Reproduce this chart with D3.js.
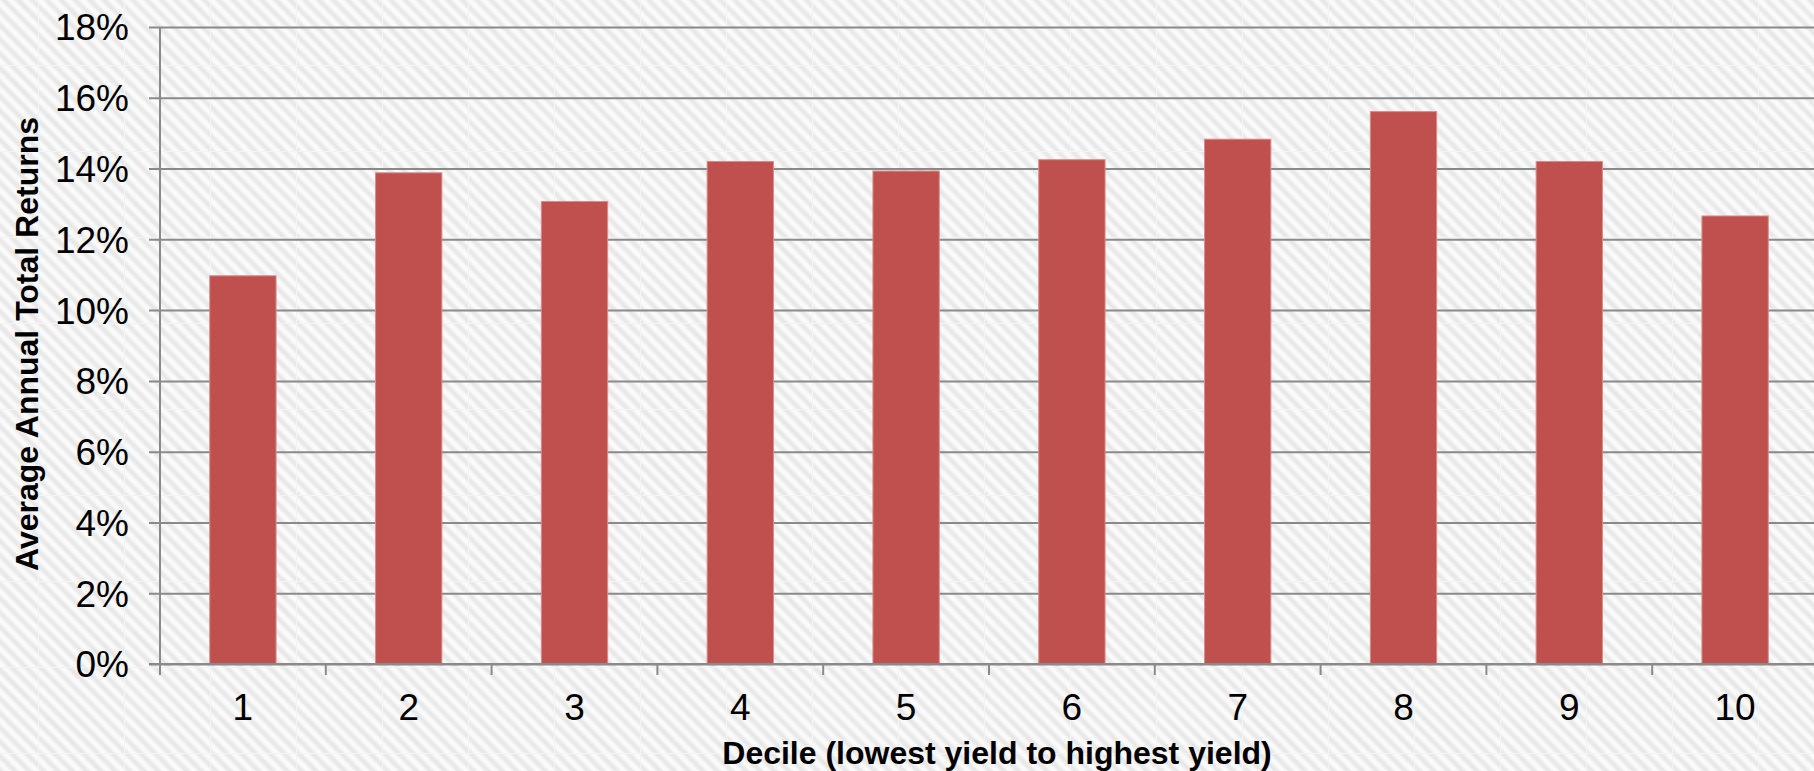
<!DOCTYPE html>
<html>
<head>
<meta charset="utf-8">
<script src="https://cdn.jsdelivr.net/npm/d3@7/dist/d3.min.js"></script>
<style>
  html, body { margin: 0; padding: 0; background: #fbfbfb; }
  svg { display: block; }
  text { font-family: "Liberation Sans", Arial, sans-serif; fill: #000; }
</style>
</head>
<body>
<svg id="chart" width="1814" height="771"></svg>
<script>
// Average annual total return by dividend-yield decile
const deciles = ["1", "2", "3", "4", "5", "6", "7", "8", "9", "10"];
const returns = [0.1097, 0.1388, 0.1307, 0.1420, 0.1393, 0.1425, 0.1483, 0.1561, 0.1420, 0.1266];
const yTicks = [0, 0.02, 0.04, 0.06, 0.08, 0.10, 0.12, 0.14, 0.16, 0.18];
const xTitle = "Decile (lowest yield to highest yield)";
const yTitle = "Average Annual Total Returns";

const W = 1814, H = 771;
const plot = { left: 160, right: 1818, top: 27, bottom: 664 };
const gridColor = "#8a8a8a";
const tickFont = 37;
const titleFont = 32;

const svg = d3.select("#chart");

// Diagonal hatched backdrop, tiled like a texture
const defs = svg.append("defs");
const tile = 86;
defs.append("filter").attr("id", "soft")
  .attr("x", "-10%").attr("y", "-10%").attr("width", "120%").attr("height", "120%")
  .append("feGaussianBlur").attr("stdDeviation", 1.2);
const pat = defs.append("pattern")
  .attr("id", "hatch")
  .attr("patternUnits", "userSpaceOnUse")
  .attr("width", tile).attr("height", tile)
  .attr("x", 38).attr("y", 65);
pat.append("rect").attr("width", tile).attr("height", tile).attr("fill", "#fbfbfb");
const stripeStep = tile / 6;
const stripeG = pat.append("g").attr("filter", "url(#soft)");
stripeG.selectAll("line")
  .data(d3.range(-7, 8))
  .join("line")
  .attr("x1", k => k * stripeStep).attr("y1", -2)
  .attr("x2", k => k * stripeStep + tile + 4).attr("y2", tile + 2)
  .attr("stroke", "#e7e7e7")
  .attr("stroke-width", 4.6);
pat.append("path")
  .attr("d", `M0,0.5H${tile}M0.5,0V${tile}`)
  .attr("stroke", "#f4f4f4").attr("stroke-width", 1).attr("fill", "none");

svg.append("rect").attr("width", W).attr("height", H).attr("fill", "url(#hatch)");

// Scales
const x = d3.scaleBand()
  .domain(deciles)
  .range([plot.left, plot.right])
  .paddingInner(0.6)
  .paddingOuter(0.3);

const y = d3.scaleLinear()
  .domain([0, 0.18])
  .range([plot.bottom, plot.top]);

// Horizontal gridlines with short outer ticks and percentage labels
const yAxis = svg.append("g")
  .attr("transform", `translate(${plot.left},0)`)
  .call(d3.axisLeft(y)
    .tickValues(yTicks)
    .tickFormat(d3.format(".0%"))
    .tickSize(11)
    .tickPadding(20));
yAxis.select(".domain").remove();
yAxis.selectAll(".tick line")
  .attr("stroke", gridColor).attr("stroke-width", 2)
  .attr("x2", W - plot.left + 10)
  .attr("x1", -11);
yAxis.selectAll(".tick text")
  .attr("font-size", tickFont)
  .attr("font-family", "Liberation Sans, Arial, sans-serif")
  .attr("fill", "#000")
  .attr("dy", "0.35em");

// Vertical axis line
svg.append("line")
  .attr("x1", plot.left).attr("x2", plot.left)
  .attr("y1", y(0.18)).attr("y2", plot.bottom + 11)
  .attr("stroke", gridColor).attr("stroke-width", 2);

// Bars
svg.append("g").selectAll("rect")
  .data(deciles.map((d, i) => ({ d, v: returns[i] })))
  .join("rect")
  .attr("x", p => x(p.d))
  .attr("width", x.bandwidth())
  .attr("y", p => y(p.v))
  .attr("height", p => y(0) - y(p.v))
  .attr("fill", "#C0504D")
  .attr("stroke", "#d78c8a")
  .attr("stroke-width", 1);

// Category axis: baseline, boundary ticks and labels
const halfGap = (x.step() - x.bandwidth()) / 2;
svg.append("line")
  .attr("x1", plot.left - 11).attr("x2", W)
  .attr("y1", y(0)).attr("y2", y(0))
  .attr("stroke", gridColor).attr("stroke-width", 2);
svg.append("g").selectAll("line")
  .data(deciles)
  .join("line")
  .attr("x1", d => x(d) - halfGap).attr("x2", d => x(d) - halfGap)
  .attr("y1", y(0)).attr("y2", y(0) + 11)
  .attr("stroke", gridColor).attr("stroke-width", 2);

const xAxis = svg.append("g")
  .attr("transform", `translate(0,${plot.bottom})`)
  .call(d3.axisBottom(x).tickSize(0).tickPadding(30));
xAxis.select(".domain").remove();
xAxis.selectAll(".tick text")
  .attr("font-size", tickFont)
  .attr("font-family", "Liberation Sans, Arial, sans-serif")
  .attr("fill", "#000");

// Axis titles
svg.append("text")
  .attr("x", 997)
  .attr("y", 764)
  .attr("text-anchor", "middle")
  .attr("font-size", titleFont)
  .attr("font-weight", "bold")
  .text(xTitle);

svg.append("text")
  .attr("transform", `translate(38,${344}) rotate(-90)`)
  .attr("text-anchor", "middle")
  .attr("font-size", titleFont)
  .attr("font-weight", "bold")
  .text(yTitle);
</script>
</body>
</html>
